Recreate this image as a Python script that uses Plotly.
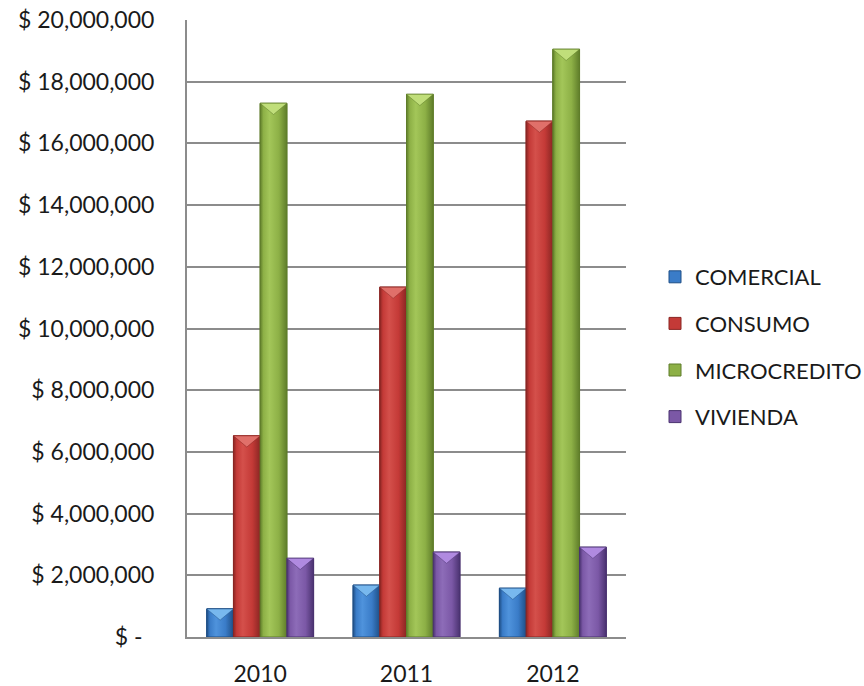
import plotly.graph_objects as go

# Cartera por tipo de crédito, 2010-2012
years = ["2010", "2011", "2012"]
series_names = ["COMERCIAL", "CONSUMO", "MICROCREDITO", "VIVIENDA"]
comercial = [910000, 1680000, 1580000]
consumo = [6520000, 11340000, 16720000]
microcredito = [17300000, 17590000, 19050000]
vivienda = [2550000, 2750000, 2910000]

y_tick_values = [0, 2000000, 4000000, 6000000, 8000000, 10000000,
                 12000000, 14000000, 16000000, 18000000, 20000000]
y_tick_labels = ["$ -\u00a0\u00a0", "$ 2,000,000", "$ 4,000,000", "$ 6,000,000",
                 "$ 8,000,000", "$ 10,000,000", "$ 12,000,000", "$ 14,000,000",
                 "$ 16,000,000", "$ 18,000,000", "$ 20,000,000"]

values = [comercial, consumo, microcredito, vivienda]

# (dark edge, base, highlight, bevel top)
palette = [
    ("#1f4f86", "#3a7cc8", "#4f93dc", "#78b8ee"),
    ("#8a2623", "#c43a37", "#d4504b", "#e0706a"),
    ("#5f7d2a", "#8db046", "#a3c659", "#c0de7a"),
    ("#4a3270", "#7b58a6", "#8d6cb8", "#b08ae0"),
]

FONT = "Lato, 'Open Sans', sans-serif"
W, H = 864, 686
M_L, M_R, M_T, M_B = 187, 238, 20, 49
Y_MAX = 20000000
X_RANGE = (-0.5, 2.5)
BARGAP = 0.27
bar_w = (1 - BARGAP) / len(series_names)

px_per_x = (W - M_L - M_R) / (X_RANGE[1] - X_RANGE[0])
px_per_y = (H - M_T - M_B) / Y_MAX

fig = go.Figure()

x_pos = list(range(len(years)))
for k, name in enumerate(series_names):
    dark, base, light, top = palette[k]
    fig.add_trace(go.Bar(
        name=name, x=x_pos, y=values[k],
        marker=dict(color=base, line=dict(color=dark, width=1)),
        legendgroup=name,
        hovertemplate=name + " %{customdata}: $%{y:,.0f}<extra></extra>",
        customdata=years,
    ))

# shading drawn over each bar: cylindrical gradient and bevelled top
for k, name in enumerate(series_names):
    dark, base, light, top = palette[k]
    for i, v in enumerate(values[k]):
        xc = i + (k - (len(series_names) - 1) / 2) * bar_w
        left, right = xc - bar_w / 2, xc + bar_w / 2
        fig.add_trace(go.Scatter(
            x=[left, left, right, right, left], y=[0, v, v, 0, 0],
            mode="lines", fill="toself",
            line=dict(color=dark, width=1),
            fillgradient=dict(type="horizontal", colorscale=[
                [0, dark], [0.12, base], [0.35, light], [0.7, base], [1, dark]]),
            showlegend=False, hoverinfo="skip",
        ))
        depth = 0.42 * bar_w * px_per_x / px_per_y
        fig.add_trace(go.Scatter(
            x=[left, right, xc, left], y=[v, v, v - depth, v],
            mode="lines", fill="toself",
            line=dict(color=dark, width=0.5),
            fillcolor=top,
            showlegend=False, hoverinfo="skip",
        ))

fig.update_layout(
    width=W, height=H,
    margin=dict(l=M_L, r=M_R, t=M_T, b=M_B, autoexpand=False),
    paper_bgcolor="white", plot_bgcolor="white",
    barmode="group", bargap=BARGAP, bargroupgap=0,
    font=dict(family=FONT, size=23, color="#1a1a1a"),
    showlegend=True,
    legend=dict(
        x=(655 - M_L) / (W - M_L - M_R), xanchor="left",
        y=(H - M_B - 347) / (H - M_T - M_B), yanchor="middle",
        tracegroupgap=15,
        font=dict(family=FONT, size=22, color="#1a1a1a"),
        bgcolor="rgba(0,0,0,0)",
    ),
)

fig.update_xaxes(
    range=list(X_RANGE), tickvals=x_pos, ticktext=years,
    showgrid=False, zeroline=False, automargin=False,
    showline=True, linecolor="#8c8c8c", linewidth=2,
    ticks="", ticklabelstandoff=15,
)
fig.update_yaxes(
    range=[0, Y_MAX], tickvals=y_tick_values, ticktext=y_tick_labels,
    showgrid=True, gridcolor="#8c8c8c", gridwidth=2, automargin=False,
    zeroline=False, showline=True, linecolor="#8c8c8c", linewidth=2,
    ticks="", ticklabelstandoff=26,
)

fig.write_html("out.html")
